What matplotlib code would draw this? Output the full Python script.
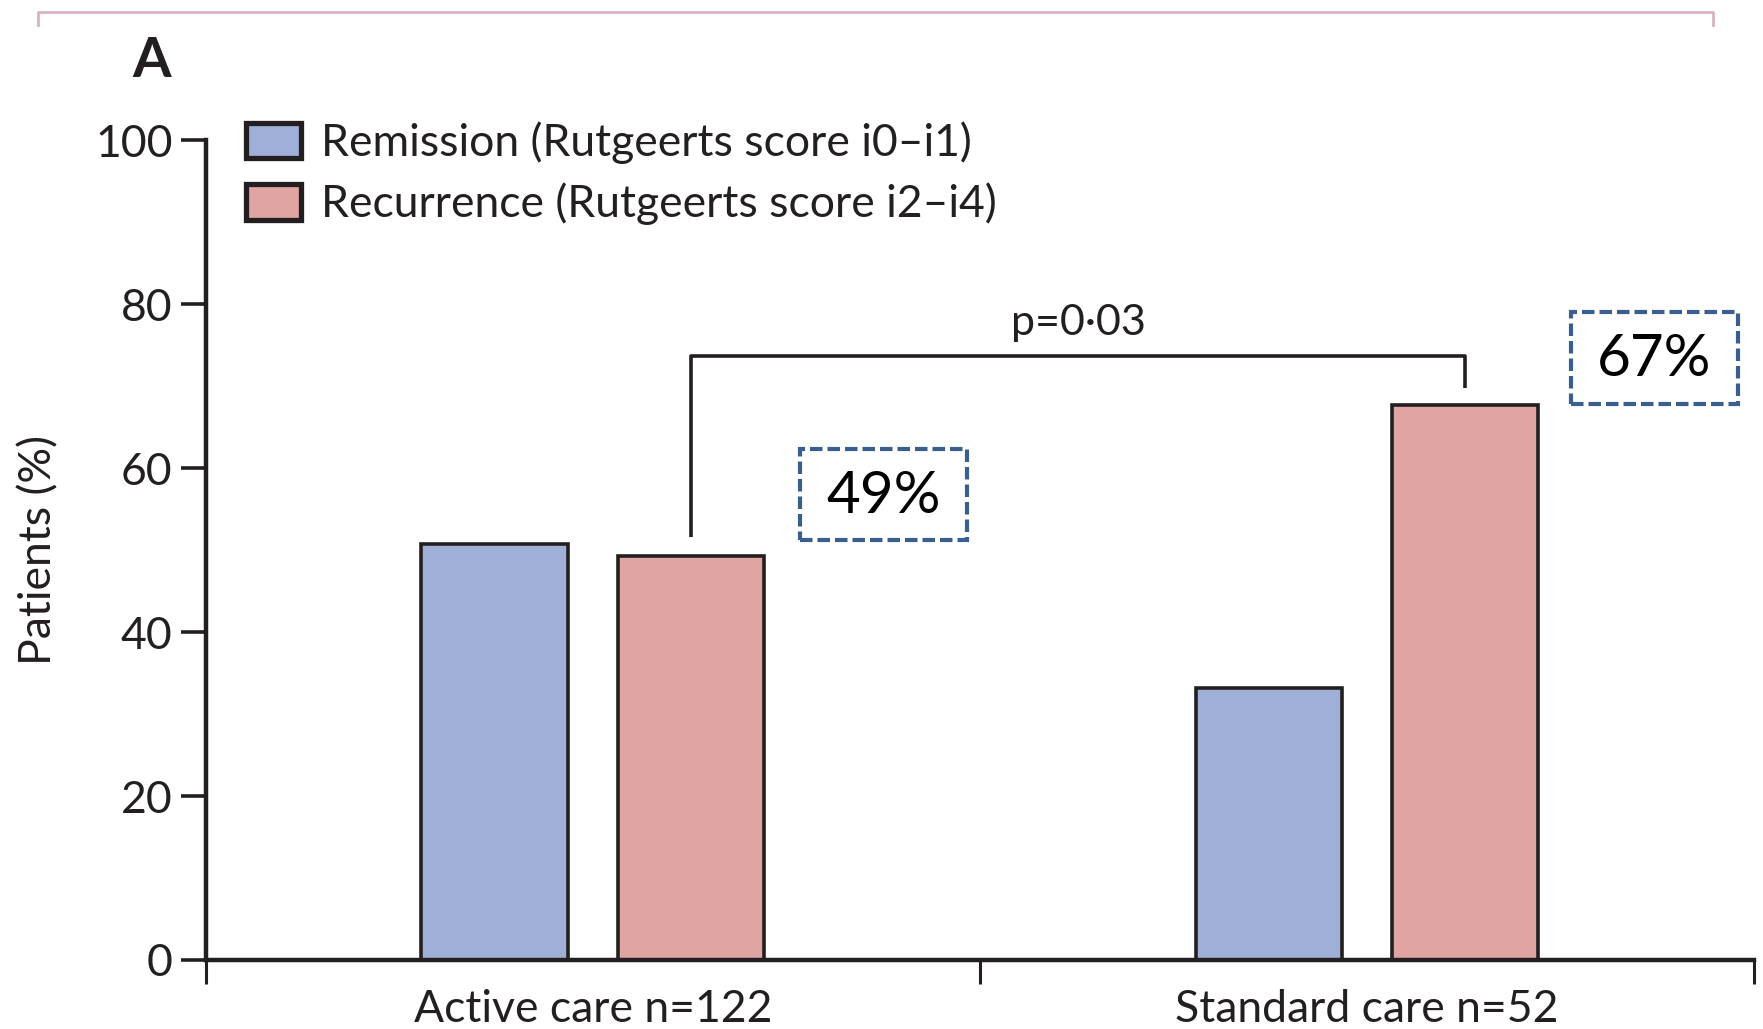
import matplotlib.pyplot as plt
from matplotlib.lines import Line2D
from matplotlib.patches import Patch, Rectangle

# data
groups = ['Active care n=122', 'Standard care n=52']
series = ['Remission (Rutgeerts score i0\u2013i1)', 'Recurrence (Rutgeerts score i2\u2013i4)']
remission = [50.7, 33.2]
recurrence = [49.3, 67.7]
box_labels = ['49%', '67%']
p_text = 'p=0\u00b703'

plt.rcParams['font.family'] = ['Lato', 'DejaVu Sans']
ink = '#231f20'
blue = '#a0afd8'
pink = '#e0a4a2'
dash_col = '#3a5e8e'

fig = plt.figure(figsize=(17.63, 10.29), dpi=100)
ax = fig.add_axes([0.1168, 0.0671, 0.8781, 0.7964])

centers = [0.5, 1.5]
off = 0.127
w = 0.189
for i, c in enumerate(centers):
    ax.bar(c - off, remission[i], w, color=blue, edgecolor=ink, linewidth=2.6, zorder=2)
    ax.bar(c + off, recurrence[i], w, color=pink, edgecolor=ink, linewidth=2.6, zorder=2)

ax.set_xlim(0, 2)
ax.set_ylim(0, 100)

# significance bracket between the two recurrence bars
x1 = centers[0] + off
x2 = centers[1] + off
ax.plot([x1, x1, x2, x2], [recurrence[0] + 2.3, 73.7, 73.7, 69.8],
        color=ink, linewidth=2.6, solid_capstyle='butt', clip_on=False)
ax.text((x1 + x2) / 2, 75.4, p_text, ha='center', va='bottom', fontsize=31, color=ink)

# dashed boxes with percentages
box_pos = [(0.767, 51.2), (1.763, 67.9)]
for (bx, by), lab in zip(box_pos, box_labels):
    ax.add_patch(Rectangle((bx, by), 0.216, 11.2, fill=False, edgecolor=dash_col,
                           linewidth=3, linestyle=(0, (3, 1.2)), clip_on=False))
    ax.text(bx + 0.108, by + 5.4, lab, ha='center', va='center', fontsize=42,
            color='black')

# axes styling
for s in ['top', 'right']:
    ax.spines[s].set_visible(False)
for s in ['left', 'bottom']:
    ax.spines[s].set_linewidth(3.2)
    ax.spines[s].set_color(ink)
ax.spines['bottom'].set_zorder(3)

ax.set_yticks([0, 20, 40, 60, 80, 100])
ax.tick_params(axis='y', length=18, width=2.6, color=ink, labelsize=32, pad=6, labelcolor=ink)
ax.set_xticks([0, 1, 2])
ax.set_xticklabels([])
ax.tick_params(axis='x', which='major', length=17, width=2.2, color=ink)
ax.set_xticks(centers, minor=True)
ax.set_xticklabels(groups, minor=True)
ax.tick_params(axis='x', which='minor', length=0, labelsize=32, pad=21, labelcolor=ink)
ax.set_ylabel('Patients (%)', fontsize=32, color=ink, labelpad=26)

handles = [Patch(facecolor=blue, edgecolor=ink, linewidth=3.8),
           Patch(facecolor=pink, edgecolor=ink, linewidth=3.8)]
ax.legend(handles, series, loc='upper left', bbox_to_anchor=(0.0, 1.072), frameon=False,
          fontsize=32, handlelength=1.25, handleheight=0.85, handletextpad=0.45,
          labelspacing=0.42, labelcolor=ink)

fig.text(0.075, 0.941, 'A', fontsize=40, fontweight='bold', color=ink, ha='left', va='center')

# thin pink frame remnant at the top
fig.add_artist(Line2D([0.0216, 0.0216, 0.9716, 0.9716], [0.976, 0.988, 0.988, 0.976],
                      color='#d9b3c0', linewidth=2))

fig.savefig('out.png', dpi=100)
